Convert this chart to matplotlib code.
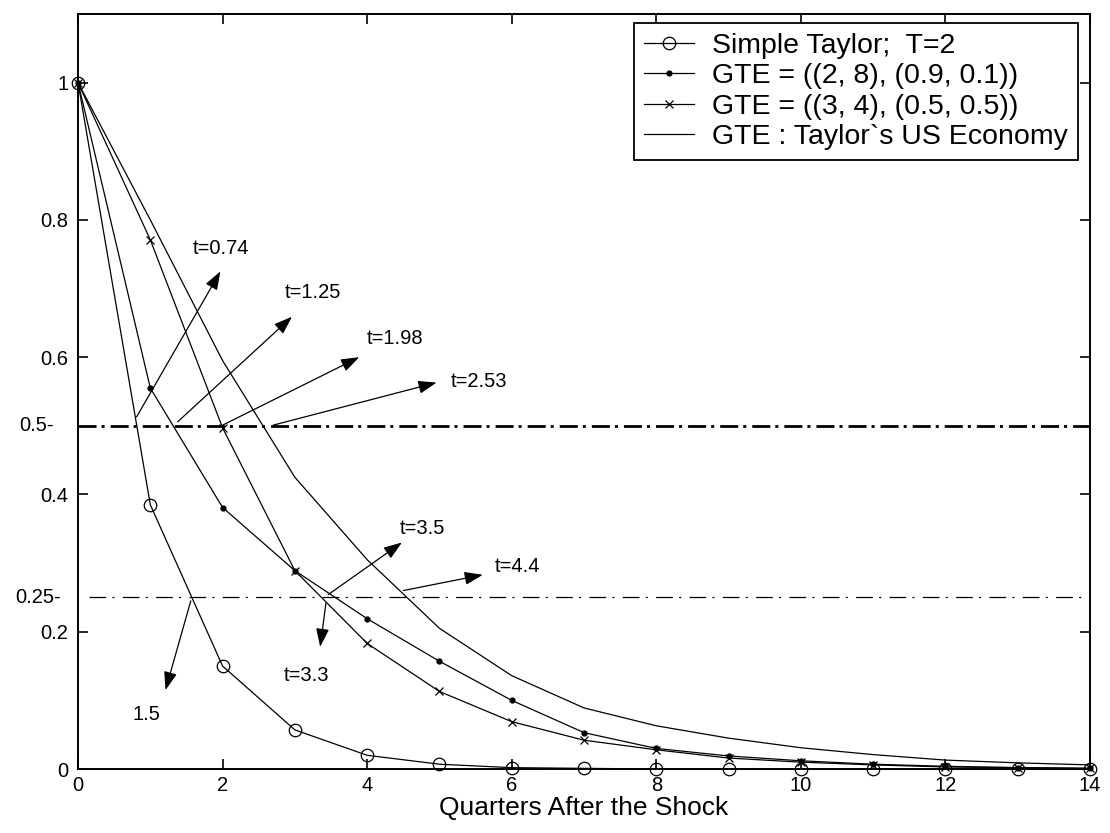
import matplotlib
matplotlib.use("Agg")
import matplotlib.pyplot as plt

plt.rcParams['font.family'] = ['Liberation Sans', 'DejaVu Sans']
plt.rcParams['lines.scale_dashes'] = False

# quarters after the shock
quarters = list(range(15))

# response series
simple_taylor = [1, 0.385, 0.15, 0.057, 0.02, 0.007, 0.002, 0.001, 0, 0, 0, 0, 0, 0, 0]
gte_28 = [1, 0.555, 0.381, 0.289, 0.219, 0.157, 0.1, 0.053, 0.03, 0.019, 0.012, 0.007, 0.004, 0.002, 0.001]
gte_34 = [1, 0.771, 0.497, 0.289, 0.183, 0.113, 0.069, 0.042, 0.028, 0.016, 0.01, 0.006, 0.003, 0.002, 0.001]
gte_us = [1, 0.8, 0.595, 0.425, 0.305, 0.205, 0.136, 0.089, 0.063, 0.045, 0.031, 0.021, 0.013, 0.009, 0.006]

labels = ['Simple Taylor;  T=2', 'GTE = ((2, 8), (0.9, 0.1))',
          'GTE = ((3, 4), (0.5, 0.5))', 'GTE : Taylor`s US Economy']

# half-life / quarter-life annotations: text, arrow tail, arrow head, text position
notes = ['t=0.74', 't=1.25', 't=1.98', 't=2.53', 't=3.5', 't=4.4', 't=3.3', '1.5']
tails = [(0.81, 0.513), (1.38, 0.506), (2.0, 0.501), (2.7, 0.501),
         (3.46, 0.254), (4.5, 0.26), (3.43, 0.242), (1.56, 0.245)]
heads = [(1.97, 0.725), (2.96, 0.659), (3.89, 0.60), (4.96, 0.563),
         (4.48, 0.33), (5.6, 0.283), (3.35, 0.178), (1.21, 0.115)]
note_pos = [(1.59, 0.759), (2.86, 0.694), (4.0, 0.627), (5.15, 0.565),
            (4.45, 0.351), (5.77, 0.295), (2.84, 0.136), (0.75, 0.08)]

fig = plt.figure(figsize=(11.1, 8.33), dpi=100)
ax = fig.add_axes([0.0703, 0.0768, 0.9117, 0.9064])

lw = 0.9
ax.plot(quarters, simple_taylor, color='k', lw=lw, marker='o', ms=9,
        mfc='none', mec='k', mew=0.9, label=labels[0], clip_on=False)
ax.plot(quarters, gte_28, color='k', lw=lw, marker='.', ms=7,
        label=labels[1], clip_on=False)
ax.plot(quarters, gte_34, color='k', lw=lw, marker='x', ms=6, mew=0.9,
        label=labels[2], clip_on=False)
ax.plot(quarters, gte_us, color='k', lw=lw, label=labels[3], clip_on=False)

# half and quarter reference lines
ax.axhline(0.5, color='k', lw=2.0, linestyle=(0, (13, 3.6, 2.2, 4.3)))
ax.plot([0.15, 14], [0.25, 0.25], color='k', lw=0.9,
        linestyle=(0, (12, 4.5, 1.5, 6)))

for s, t, h, p in zip(notes, tails, heads, note_pos):
    ax.annotate('', xy=h, xytext=t,
                arrowprops=dict(arrowstyle='-|>,head_length=0.7,head_width=0.25',
                                color='k', lw=0.9, mutation_scale=16,
                                shrinkA=0, shrinkB=0))
    ax.text(p[0], p[1], s, fontsize=14.5, ha='left', va='center')

ax.text(-0.0237, 0.5, '0.5-', fontsize=14.5, ha='right', va='center',
        transform=ax.get_yaxis_transform())
ax.text(-0.0168, 0.25, '0.25-', fontsize=14.5, ha='right', va='center',
        transform=ax.get_yaxis_transform())

ax.set_xlim(0, 14)
ax.set_ylim(0, 1.1)
ax.set_xticks(range(0, 15, 2))
ax.set_yticks([0, 0.2, 0.4, 0.6, 0.8, 1])
ax.set_yticklabels(['0', '0.2', '0.4', '0.6', '0.8', '1'])
ax.tick_params(direction='in', length=7, width=1.2, top=True, right=True,
               labelsize=14.5)
ax.tick_params(axis='y', pad=7)
ax.tick_params(axis='x', pad=5)
for sp in ax.spines.values():
    sp.set_linewidth(1.4)

ax.set_xlabel('Quarters After the Shock', fontsize=19, labelpad=1)

leg = ax.legend(loc='upper right', bbox_to_anchor=(0.988, 0.988),
                borderaxespad=0, fontsize=20.5, labelspacing=0.15,
                handlelength=1.75, handletextpad=0.65, borderpad=0.35,
                fancybox=False, framealpha=1, edgecolor='k')
leg.get_frame().set_linewidth(1.3)

fig.savefig('out.png', dpi=100, facecolor='white')
